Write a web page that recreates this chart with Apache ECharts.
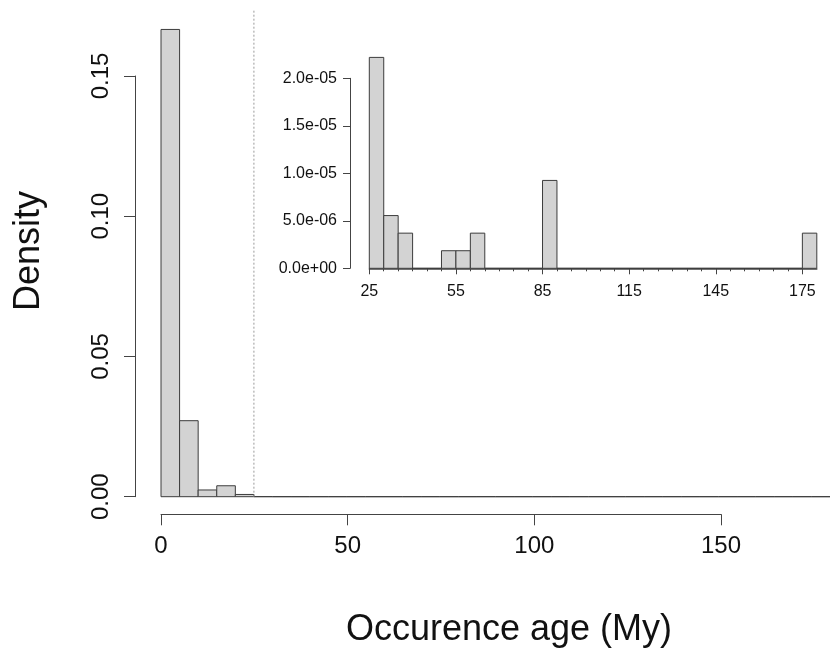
<!DOCTYPE html>
<html>
<head>
<meta charset="utf-8">
<script src="https://cdn.jsdelivr.net/npm/echarts@6/dist/echarts.min.js"></script>
<style>
html,body{margin:0;padding:0;background:#fff;}
#chart{width:830px;height:655px;}
</style>
</head>
<body>
<div id="chart"></div>
<script>
// ---- data ----
const binEdges = [0,5,10,15,20,25,30,35,40,45,50,55,60,65,70,75,80,85,90,95,100,105,110,115,120,125,130,135,140,145,150,155,160,165,170,175,180];
// densities for bins 0-25 (main histogram, visible part)
const youngDensity = [0.1666, 0.0271, 0.0024, 0.0039, 0.0008];
// densities for bins 25-180 (shown in the inset)
const oldDensity = [2.22e-5, 5.55e-6, 3.7e-6, 0, 0, 1.85e-6, 1.85e-6, 3.7e-6, 0, 0, 0, 0, 9.25e-6,
  0, 0, 0, 0, 0, 0, 0, 0, 0, 0, 0, 0, 0, 0, 0, 0, 0, 3.7e-6];
const cutoffAge = 25;
const cutoffTop = 0.1735;
const mainXTicks = [0, 50, 100, 150];
const mainYTicks = [0, 0.05, 0.10, 0.15];
const insetXTicks = [25, 55, 85, 115, 145, 175];
const insetMinorTicks = [25,30,35,40,45,50,55,60,65,70,75,80,85,90,95,100,105,110,115,120,125,130,135,140,145,150,155,160,165,170,175];
const insetYTicks = [0, 5e-6, 1e-5, 1.5e-5, 2e-5];
const xTitle = 'Occurence age (My)';
const yTitle = 'Density';

// ---- build ----
const allDensity = youngDensity.concat(oldDensity);
const mainData = allDensity.map((d, i) => [binEdges[i], binEdges[i + 1], d]);
const insetStart = binEdges.indexOf(cutoffAge);
const insetData = oldDensity.map((d, i) => [binEdges[insetStart + i], binEdges[insetStart + i + 1], d]);

const FONT = "'Liberation Sans', Arial, Helvetica, sans-serif";
const AX = '#444';
function sci(v) {
  if (Math.abs(v) < 1e-15) return '0.0e+00';
  const s = v.toExponential(1);
  const parts = s.split('e');
  const n = parseInt(parts[1], 10);
  return parts[0] + 'e' + (n < 0 ? '-' : '+') + String(Math.abs(n)).padStart(2, '0');
}
function renderBar(params, api) {
  const p0 = api.coord([api.value(0), api.value(2)]);
  const p1 = api.coord([api.value(1), 0]);
  return {
    type: 'rect',
    shape: { x: p0[0], y: p0[1], width: p1[0] - p0[0], height: p1[1] - p0[1] },
    style: { fill: '#d3d3d3', stroke: '#3c3c3c', lineWidth: 1 }
  };
}

const chart = echarts.init(document.getElementById('chart'));
chart.setOption({
  animation: false,
  backgroundColor: '#fff',
  textStyle: { fontFamily: FONT },
  grid: [
    { left: 161, top: 76, width: 672, height: 420.7 },     // main histogram
    { left: 161, top: 500, width: 560, height: 14.3 },     // main x axis (0-150)
    { left: 369.3, top: 78.3, width: 447.5, height: 190 }  // inset
  ],
  xAxis: [
    { gridIndex: 0, type: 'value', min: 0, max: 180, show: false },
    { gridIndex: 1, type: 'value', min: 0, max: 150, interval: 50, position: 'bottom',
      axisLine: { show: true, onZero: false, lineStyle: { color: AX, width: 1 } },
      axisTick: { show: true, length: 11, lineStyle: { color: AX } },
      splitLine: { show: false },
      axisLabel: { margin: 20, fontSize: 24, color: '#111', fontFamily: FONT,
        customValues: mainXTicks, formatter: v => String(v) } },
    { gridIndex: 2, type: 'value', min: 25, max: 180, position: 'bottom',
      axisLine: { show: true, onZero: false, lineStyle: { color: AX, width: 1.5 } },
      axisTick: { show: true, length: 6, lineStyle: { color: AX }, customValues: insetXTicks },
      splitLine: { show: false },
      axisLabel: { margin: 15, fontSize: 16, color: '#111', fontFamily: FONT,
        customValues: insetXTicks, formatter: v => String(v) } },
    { gridIndex: 2, type: 'value', min: 25, max: 180, position: 'bottom',
      axisLine: { show: false, onZero: false },
      axisTick: { show: true, length: 3, lineStyle: { color: AX }, customValues: insetMinorTicks },
      axisLabel: { show: false }, splitLine: { show: false } }
  ],
  yAxis: [
    { gridIndex: 0, type: 'value', min: 0, max: 0.15, interval: 0.05, offset: 26,
      axisLine: { show: true, onZero: false, lineStyle: { color: AX, width: 1 } },
      axisTick: { show: true, length: 11, lineStyle: { color: AX } },
      splitLine: { show: false },
      axisLabel: { rotate: 90, margin: 22, fontSize: 24, color: '#111', fontFamily: FONT,
        customValues: mainYTicks, formatter: v => v.toFixed(2) } },
    { gridIndex: 1, type: 'value', min: 0, max: 1, show: false },
    { gridIndex: 2, type: 'value', min: 0, max: 2e-5, offset: 19.3,
      axisLine: { show: true, onZero: false, lineStyle: { color: AX, width: 1 } },
      axisTick: { show: true, length: 7, lineStyle: { color: AX }, customValues: insetYTicks },
      splitLine: { show: false },
      axisLabel: { margin: 13, fontSize: 16, color: '#111', fontFamily: FONT,
        customValues: insetYTicks, formatter: sci } }
  ],
  series: [
    { type: 'custom', xAxisIndex: 0, yAxisIndex: 0, renderItem: renderBar, data: mainData,
      encode: { x: [0, 1], y: 2 }, clip: false, silent: true },
    { type: 'line', xAxisIndex: 0, yAxisIndex: 0, data: [[cutoffAge, 0], [cutoffAge, cutoffTop]],
      symbol: 'none', clip: false, silent: true,
      lineStyle: { color: '#9a9a9a', width: 1, type: [2, 2] } },
    { type: 'custom', xAxisIndex: 2, yAxisIndex: 2, renderItem: renderBar, data: insetData,
      encode: { x: [0, 1], y: 2 }, clip: false, silent: true }
  ],
  graphic: [
    { type: 'text', x: 509, y: 630, silent: true,
      style: { text: xTitle, fontSize: 36, fontFamily: FONT, fill: '#111',
        align: 'center', verticalAlign: 'middle' } },
    { type: 'text', x: 29.5, y: 251, rotation: Math.PI / 2, silent: true,
      style: { text: yTitle, fontSize: 36, fontFamily: FONT, fill: '#111',
        align: 'center', verticalAlign: 'middle' } }
  ]
});
</script>
</body>
</html>
